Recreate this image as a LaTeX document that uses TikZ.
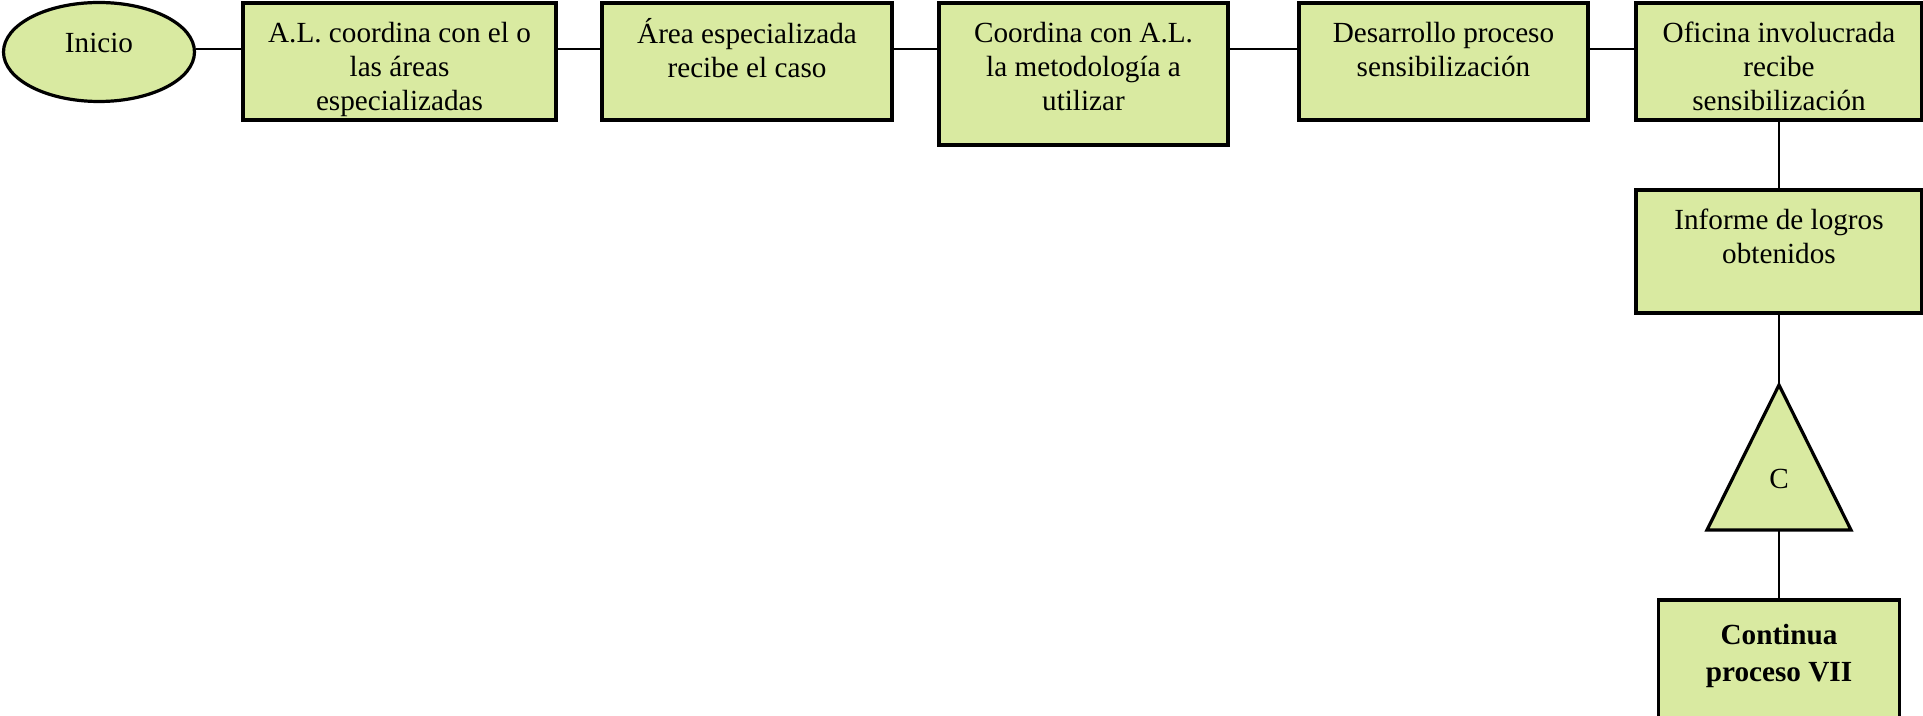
\documentclass[tikz,border=0pt]{standalone}
\usepackage{fontspec}
\setmainfont{Liberation Serif}
\usetikzlibrary{calc,shapes.geometric}
\definecolor{boxfill}{RGB}{217,234,161}
\begin{document}
\begin{tikzpicture}[x=0.5pt,y=-0.5pt,
  box/.style={draw=black, line width=1.6pt, fill=boxfill, rectangle, inner sep=0pt},
  term/.style={draw=black, line width=1.6pt, fill=boxfill, ellipse, inner sep=0pt},
  lbl/.style={anchor=north, inner sep=0pt, align=center, font=\fontsize{14.6}{17}\selectfont},
  blbl/.style={anchor=north, inner sep=0pt, align=center, font=\fontsize{14.6}{18.5}\selectfont\bfseries},
  wire/.style={line width=1.2pt},
  thinwire/.style={line width=0.75pt}]
\useasboundingbox (0,0) rectangle (1923,716);
\clip (0,0) rectangle (1923,716);

% start terminal
\node[term, minimum width=95.5pt, minimum height=49.5pt] (ini) at (99,52) {};
\node[anchor=base, inner sep=0pt, font=\fontsize{14.6}{17}\selectfont] (tini) at (99,53) {Inicio};

% top row of process boxes
\node[box, minimum width=156.5pt, minimum height=58.5pt] (b1) at (399.5,61.5) {};
\node[box, minimum width=145pt,   minimum height=58.5pt] (b2) at (747,61.5) {};
\node[box, minimum width=144.5pt, minimum height=71pt]   (b3) at (1083.5,74) {};
\node[box, minimum width=144.5pt, minimum height=58.5pt] (b4) at (1443.5,61.5) {};
\node[box, minimum width=143pt,   minimum height=58.5pt] (b5) at (1779,61.5) {};

% right column
\node[box, minimum width=143pt, minimum height=61.5pt] (b6) at (1779,251.5) {};
\coordinate (apex) at (1779,385);
\coordinate (tl) at (1707,530);
\coordinate (tr) at (1851,530);
\coordinate (tbase) at (1779,530);
\node[box, minimum width=120.5pt, minimum height=70pt] (b7) at (1779,670) {};

% labels
\node[lbl] (t1) at ($(b1.north)+(0,17)$) {\strut A.L. coordina con el o\\las áreas\\especializadas};
\node[lbl] (t2) at ($(b2.north)+(0,17)$) {\strut Área especializada\\recibe el caso};
\node[lbl] (t3) at ($(b3.north)+(0,17)$) {\strut Coordina con A.L.\\la metodología a\\utilizar};
\node[lbl] (t4) at ($(b4.north)+(0,17)$) {\strut Desarrollo proceso\\sensibilización};
\node[lbl] (t5) at ($(b5.north)+(0,17)$) {\strut Oficina involucrada\\recibe\\sensibilización};
\node[lbl] (t6) at ($(b6.north)+(0,17)$) {\strut Informe de logros\\obtenidos};
\node[blbl] (t7) at ($(b7.north)+(0,20)$) {\strut Continua\\proceso VII};

% connectors
\coordinate (row) at (0,49);
\draw[wire] (ini.east |- row) -- (b1.west |- row);
\draw[wire] (b1.east |- row) -- (b2.west |- row);
\draw[wire] (b2.east |- row) -- (b3.west |- row);
\draw[wire] (b3.east |- row) -- (b4.west |- row);
\draw[thinwire] (b4.east |- row) -- (b5.west |- row);
\draw[wire] (b5.south) -- (b6.north);
\draw[wire] (b6.south) -- (apex);
\draw[wire] (tbase) -- (b7.north);

% off-page connector
\draw[line width=1.6pt, fill=boxfill, line join=miter] (apex) -- (tr) -- (tl) -- cycle;
\node[anchor=base, inner sep=0pt, font=\fontsize{14.6}{17}\selectfont] (tc) at (1779,488) {C};
\end{tikzpicture}
\end{document}
